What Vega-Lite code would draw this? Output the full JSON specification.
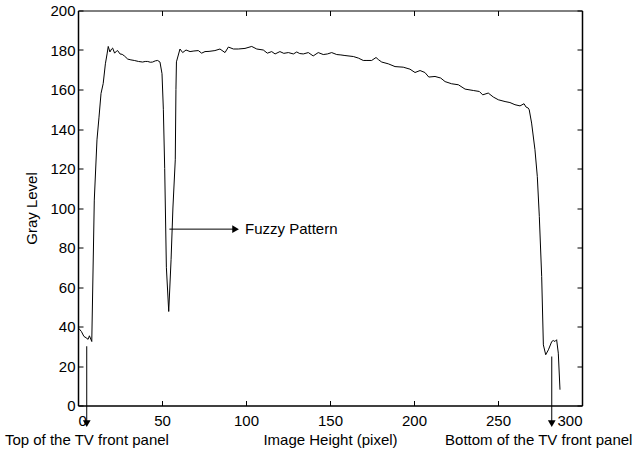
{
  "$schema": "https://vega.github.io/schema/vega-lite/v6.json",
  "width": 504,
  "height": 395,
  "autosize": "none",
  "padding": {"left": 78, "top": 10.5, "right": 52, "bottom": 50},
  "background": "white",
  "config": {
    "view": {"stroke": null},
    "font": "Liberation Sans",
    "axis": {
      "grid": false,
      "domainColor": "black",
      "domainWidth": 1.5,
      "tickColor": "black",
      "tickWidth": 1,
      "tickSize": -5,
      "labelColor": "black",
      "labelFont": "Liberation Sans",
      "labelFontSize": 15,
      "titleFont": "Liberation Sans",
      "titleFontSize": 15,
      "titleFontWeight": "normal",
      "titleColor": "black"
    }
  },
  "datasets": {
    "curve": [
      {"x": 0.5, "y": 39}, {"x": 2, "y": 37.5}, {"x": 3.5, "y": 35}, {"x": 4.8, "y": 34.3}, {"x": 6, "y": 33.5}, {"x": 6.8, "y": 35.3}, {"x": 8.2, "y": 32.4},
      {"x": 9.7, "y": 104}, {"x": 11.3, "y": 134.5}, {"x": 12.5, "y": 146}, {"x": 13.7, "y": 158}, {"x": 15, "y": 163}, {"x": 16.3, "y": 173}, {"x": 17.3, "y": 178},
      {"x": 18, "y": 181.8}, {"x": 19, "y": 179}, {"x": 20, "y": 180.5}, {"x": 20.6, "y": 181}, {"x": 21.8, "y": 178.4}, {"x": 23, "y": 179.5}, {"x": 23.6, "y": 179.7},
      {"x": 25, "y": 178}, {"x": 26.3, "y": 177.8}, {"x": 27.6, "y": 177}, {"x": 29.6, "y": 175.4}, {"x": 31.5, "y": 175}, {"x": 33.5, "y": 174.7}, {"x": 36, "y": 174.2},
      {"x": 38.5, "y": 173.9}, {"x": 40, "y": 174.2}, {"x": 41.5, "y": 174.2}, {"x": 43, "y": 173.8}, {"x": 44.4, "y": 173.9}, {"x": 46, "y": 174.5}, {"x": 47.4, "y": 174.7},
      {"x": 48.8, "y": 173.9}, {"x": 50, "y": 168}, {"x": 50.8, "y": 150}, {"x": 51.6, "y": 120}, {"x": 52.6, "y": 70}, {"x": 54, "y": 47.6}, {"x": 55.4, "y": 73.8},
      {"x": 56.5, "y": 100}, {"x": 57.9, "y": 124.4}, {"x": 58.3, "y": 160}, {"x": 58.6, "y": 174}, {"x": 60.7, "y": 180.5}, {"x": 62.3, "y": 178.7}, {"x": 64.3, "y": 180},
      {"x": 66.7, "y": 179.2}, {"x": 69, "y": 179.5}, {"x": 71.6, "y": 179.7}, {"x": 73.6, "y": 178.4}, {"x": 75.6, "y": 179.2}, {"x": 78, "y": 179.3}, {"x": 81.5, "y": 179.7},
      {"x": 84.5, "y": 180.5}, {"x": 87.5, "y": 178.7}, {"x": 89.5, "y": 181.5}, {"x": 92.5, "y": 180.5}, {"x": 95.4, "y": 180.5}, {"x": 99.4, "y": 180.8}, {"x": 103.4, "y": 181.8},
      {"x": 106.4, "y": 180.5}, {"x": 110.3, "y": 180}, {"x": 112.7, "y": 178.4}, {"x": 115.3, "y": 179.2}, {"x": 117.3, "y": 178}, {"x": 120.2, "y": 179.2}, {"x": 122.5, "y": 178.3},
      {"x": 125.2, "y": 178.7}, {"x": 128.2, "y": 178}, {"x": 130.2, "y": 179}, {"x": 132, "y": 178.2}, {"x": 134.1, "y": 178}, {"x": 137.1, "y": 178.7}, {"x": 140, "y": 177},
      {"x": 143, "y": 178.7}, {"x": 146, "y": 177.7}, {"x": 148.5, "y": 178}, {"x": 151, "y": 178.7}, {"x": 154, "y": 177.7}, {"x": 156.5, "y": 177.5}, {"x": 158.9, "y": 177.2},
      {"x": 163.9, "y": 176.7}, {"x": 166.9, "y": 175.9}, {"x": 169.8, "y": 174.7}, {"x": 172, "y": 174.7}, {"x": 174.8, "y": 174.7}, {"x": 177.4, "y": 176.2}, {"x": 179, "y": 175},
      {"x": 180.8, "y": 173.9}, {"x": 184.7, "y": 173}, {"x": 188.7, "y": 171.6}, {"x": 193.6, "y": 171.3}, {"x": 197.6, "y": 170.3}, {"x": 200.6, "y": 168.6}, {"x": 203.6, "y": 169.6},
      {"x": 206.5, "y": 168.6}, {"x": 208.8, "y": 166.3}, {"x": 212.5, "y": 166.6}, {"x": 215.9, "y": 165.8}, {"x": 218.5, "y": 164}, {"x": 222.4, "y": 162.9}, {"x": 226.4, "y": 162.4},
      {"x": 230.4, "y": 160.2}, {"x": 235.3, "y": 159.5}, {"x": 238.9, "y": 159}, {"x": 240.9, "y": 157.3}, {"x": 244.2, "y": 158.2}, {"x": 247.2, "y": 156.2}, {"x": 250.2, "y": 154.8},
      {"x": 254.2, "y": 153.9}, {"x": 257.1, "y": 153.4}, {"x": 260.1, "y": 152.3}, {"x": 263.1, "y": 151.7}, {"x": 265.5, "y": 152.8}, {"x": 266.7, "y": 151.1}, {"x": 268, "y": 150.6},
      {"x": 268.6, "y": 149.7}, {"x": 270, "y": 143}, {"x": 272, "y": 129.5}, {"x": 273.4, "y": 116}, {"x": 274.6, "y": 95.7}, {"x": 276, "y": 65.3}, {"x": 277, "y": 30.7},
      {"x": 278.4, "y": 25.7}, {"x": 280, "y": 28.2}, {"x": 282, "y": 32.4}, {"x": 282.9, "y": 32.9}, {"x": 283.9, "y": 32.4}, {"x": 284.9, "y": 33.3}, {"x": 285.9, "y": 26.5},
      {"x": 286.9, "y": 8}
    ],
    "arrows": [
      {"x": 5.2, "y": 30, "x2": 5.2, "y2": -8},
      {"x": 282, "y": 24.8, "x2": 282, "y2": -8},
      {"x": 54.4, "y": 89.3, "x2": 93, "y2": 89.3}
    ],
    "headsDown": [
      {"x": 5.2, "y": -9.2},
      {"x": 282, "y": -9.2}
    ],
    "headsRight": [
      {"x": 93.8, "y": 89.3}
    ],
    "labels": [
      {"x": -43.5, "y": -17.6, "text": "Top of the TV front panel"},
      {"x": 218.5, "y": -17.6, "text": "Bottom of the TV front panel"},
      {"x": 99.4, "y": 89.3, "text": "Fuzzy Pattern"}
    ]
  },
  "layer": [
    {
      "data": {"name": "curve"},
      "mark": {"type": "line", "color": "black", "strokeWidth": 1, "clip": false},
      "encoding": {
        "x": {"field": "x", "type": "quantitative", "scale": {"domain": [0, 300], "nice": false},
          "axis": {"values": [0, 50, 100, 150, 200, 250, 300], "title": "Image Height (pixel)", "labelPadding": 13, "titlePadding": 4}},
        "y": {"field": "y", "type": "quantitative", "scale": {"domain": [0, 200], "nice": false},
          "axis": {"values": [0, 20, 40, 60, 80, 100, 120, 140, 160, 180, 200], "title": "Gray Level", "labelPadding": 8, "titlePadding": 10}}
      }
    },
    {
      "data": {"name": "curve"},
      "mark": {"type": "point", "opacity": 0},
      "encoding": {
        "x": {"field": "x", "type": "quantitative", "scale": {"domain": [0, 300], "nice": false},
          "axis": {"orient": "top", "values": [0, 50, 100, 150, 200, 250, 300], "labels": false, "title": null, "domainWidth": 1}},
        "y": {"field": "y", "type": "quantitative", "scale": {"domain": [0, 200], "nice": false},
          "axis": {"orient": "right", "values": [0, 20, 40, 60, 80, 100, 120, 140, 160, 180, 200], "labels": false, "title": null, "domainWidth": 1.5}}
      }
    },
    {
      "data": {"name": "arrows"},
      "mark": {"type": "rule", "color": "black", "strokeWidth": 1},
      "encoding": {
        "x": {"field": "x", "type": "quantitative", "axis": null},
        "y": {"field": "y", "type": "quantitative", "axis": null},
        "x2": {"field": "x2"},
        "y2": {"field": "y2"}
      }
    },
    {
      "data": {"name": "headsDown"},
      "mark": {"type": "point", "shape": "triangle-down", "filled": true, "color": "black", "size": 60, "opacity": 1},
      "encoding": {
        "x": {"field": "x", "type": "quantitative", "axis": null},
        "y": {"field": "y", "type": "quantitative", "axis": null}
      }
    },
    {
      "data": {"name": "headsRight"},
      "mark": {"type": "point", "shape": "triangle-right", "filled": true, "color": "black", "size": 60, "opacity": 1},
      "encoding": {
        "x": {"field": "x", "type": "quantitative", "axis": null},
        "y": {"field": "y", "type": "quantitative", "axis": null}
      }
    },
    {
      "data": {"name": "labels"},
      "mark": {"type": "text", "align": "left", "baseline": "middle", "fontSize": 15, "font": "Liberation Sans", "color": "black"},
      "encoding": {
        "x": {"field": "x", "type": "quantitative", "axis": null},
        "y": {"field": "y", "type": "quantitative", "axis": null},
        "text": {"field": "text"}
      }
    }
  ],
  "resolve": {"axis": {"x": "independent", "y": "independent"}}
}
